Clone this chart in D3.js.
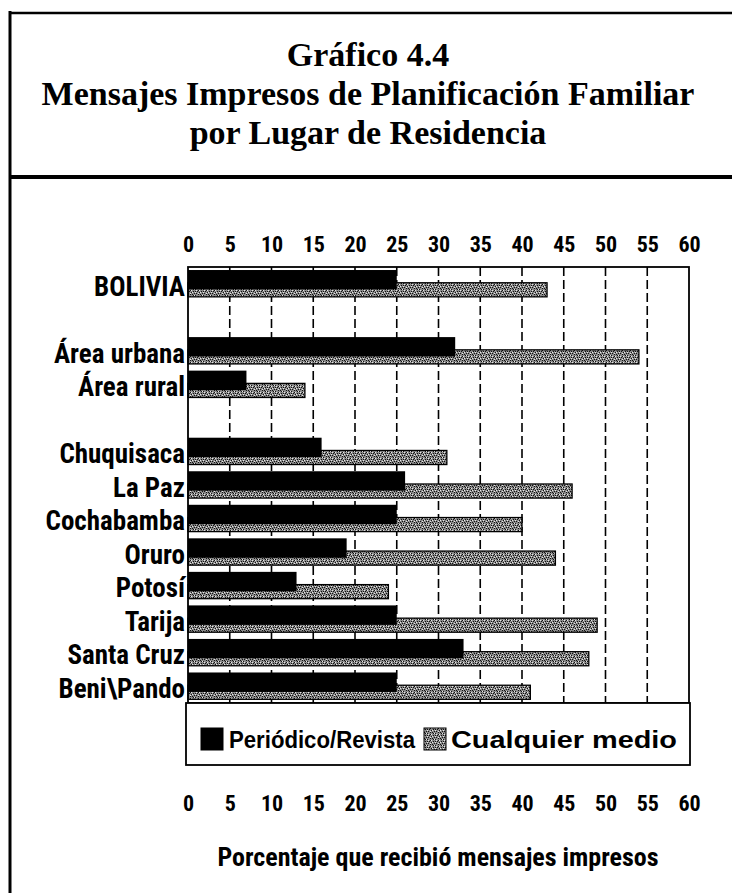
<!DOCTYPE html>
<html>
<head>
<meta charset="utf-8">
<script src="https://cdn.jsdelivr.net/npm/d3@7"></script>
<style>
  body { margin: 0; background: #fff; }
  svg { display: block; }
</style>
</head>
<body>
<svg id="chart" width="732" height="893"></svg>
<script>
// groups of categories, a blank row goes between groups
const categoryGroups = [
    ["BOLIVIA"],
    ["Área urbana", "Área rural"],
    ["Chuquisaca", "La Paz", "Cochabamba", "Oruro", "Potosí", "Tarija", "Santa Cruz", "Beni\\Pando"]
];
const categories = categoryGroups.flat();
const periodico = [25, 32, 7, 16, 26, 25, 19, 13, 25, 33, 25];
const cualquier = [43, 54, 14, 31, 46, 40, 44, 24, 49, 48, 41];
const xTicks = [0, 5, 10, 15, 20, 25, 30, 35, 40, 45, 50, 55, 60];
const seriesNames = ["Periódico/Revista", "Cualquier medio"];
const titleLines = ["Gráfico 4.4", "Mensajes Impresos de Planificación Familiar", "por Lugar de Residencia"];
const xTitle = "Porcentaje que recibió mensajes impresos";

const svg = d3.select('#chart');
const condensed = "'Liberation Sans Narrow', 'Roboto Condensed', 'Liberation Sans', sans-serif";

// stippled gray fill like the printed screen
const defs = svg.append('defs');
const pat = defs.append('pattern')
    .attr('id', 'stipple')
    .attr('width', 8).attr('height', 6)
    .attr('patternUnits', 'userSpaceOnUse');
pat.append('rect').attr('width', 8).attr('height', 6).attr('fill', '#8a8a8a');
const darkDots = [[0,0],[3,1],[6,0],[1,3],[5,3],[2,5],[7,4],[4,5],[1,1],[6,2],[3,3]];
const lightDots = [[2,1],[7,2],[0,4],[4,2],[6,5],[3,4]];
pat.selectAll('.d').data(darkDots).enter().append('rect')
    .attr('x', d => d[0]).attr('y', d => d[1]).attr('width', 1).attr('height', 1).attr('fill', '#111');
pat.selectAll('.l').data(lightDots).enter().append('rect')
    .attr('x', d => d[0]).attr('y', d => d[1]).attr('width', 1).attr('height', 1).attr('fill', '#e8e8e8');

// frame
svg.append('line').attr('x1', 10).attr('x2', 10).attr('y1', 11).attr('y2', 893)
    .attr('stroke', '#000').attr('stroke-width', 3);
svg.append('line').attr('x1', 9).attr('x2', 732).attr('y1', 13).attr('y2', 13)
    .attr('stroke', '#000').attr('stroke-width', 2.5);
svg.append('line').attr('x1', 9).attr('x2', 732).attr('y1', 177).attr('y2', 177)
    .attr('stroke', '#000').attr('stroke-width', 4);

// title
svg.selectAll('.title')
    .data(titleLines)
    .enter()
    .append('text')
    .attr('class', 'title')
    .attr('x', 368)
    .attr('y', (d, i) => 66 + i * 39)
    .attr('text-anchor', 'middle')
    .style('font-family', "'Liberation Serif', 'Times New Roman', serif")
    .style('font-weight', 'bold')
    .style('font-size', '34px')
    .text(d => d);

// scales
const margin = { left: 188, right: 689, top: 267, bottom: 703 };
const x = d3.scaleLinear().domain([0, 60]).range([margin.left, margin.right]);

const rows = [];
categoryGroups.forEach((g, i) => {
    if (i > 0) rows.push('_gap' + i);
    g.forEach(c => rows.push(c));
});
const y = d3.scaleBand().domain(rows).range([margin.top, margin.bottom]);
const bw = y.bandwidth();

// dashed grid
svg.selectAll('.grid')
    .data(xTicks.slice(1, -1))
    .enter()
    .append('line')
    .attr('class', 'grid')
    .attr('x1', d => x(d)).attr('x2', d => x(d))
    .attr('y1', margin.top).attr('y2', margin.bottom)
    .attr('stroke', '#000')
    .attr('stroke-width', 1.6)
    .attr('stroke-dasharray', '9,4');

const data = categories.map((c, i) => ({ name: c, p: periodico[i], q: cualquier[i] }));

// gray bars (lower, behind)
svg.selectAll('.bar-q')
    .data(data)
    .enter()
    .append('rect')
    .attr('class', 'bar-q')
    .attr('x', x(0))
    .attr('y', d => y(d.name) + bw * 0.47)
    .attr('width', d => x(d.q) - x(0))
    .attr('height', bw * 0.42)
    .attr('fill', 'url(#stipple)')
    .attr('stroke', '#000')
    .attr('stroke-width', 1.3);

// black bars (upper)
svg.selectAll('.bar-p')
    .data(data)
    .enter()
    .append('rect')
    .attr('class', 'bar-p')
    .attr('x', x(0))
    .attr('y', d => y(d.name) + bw * 0.09)
    .attr('width', d => x(d.p) - x(0))
    .attr('height', bw * 0.58)
    .attr('fill', '#000');

// plot border
svg.append('rect')
    .attr('x', margin.left).attr('y', margin.top)
    .attr('width', margin.right - margin.left)
    .attr('height', margin.bottom - margin.top)
    .attr('fill', 'none')
    .attr('stroke', '#000')
    .attr('stroke-width', 1.8);

// category labels
svg.selectAll('.cat')
    .data(data)
    .enter()
    .append('text')
    .attr('class', 'cat')
    .attr('x', margin.left - 3)
    .attr('y', d => y(d.name) + bw * 0.56)
    .attr('dy', '0.36em')
    .attr('text-anchor', 'end')
    .style('font-family', condensed)
    .style('font-weight', 'bold')
    .style('font-size', '27px')
    .text(d => d.name);

// top and bottom tick labels
function tickLabels(axis, ypos) {
    svg.append('g')
        .attr('transform', `translate(0,${ypos})`)
        .call(axis.tickValues(xTicks).tickSize(0).tickPadding(0))
        .call(g => g.select('.domain').remove())
        .selectAll('text')
        .attr('dy', 0)
        .style('font-family', condensed)
        .style('font-weight', 'bold')
        .style('font-size', '22px')
        .attr('fill', '#000');
}
tickLabels(d3.axisTop(x), 252);
tickLabels(d3.axisBottom(x), 811);

// legend
const legY = margin.bottom;
svg.append('rect')
    .attr('x', 186).attr('y', legY)
    .attr('width', 504).attr('height', 62)
    .attr('fill', '#fff')
    .attr('stroke', '#000')
    .attr('stroke-width', 1.8);

const legendItems = [
    { name: seriesNames[0], fill: '#000', x: 201, tx: 229, w: 186 },
    { name: seriesNames[1], fill: 'url(#stipple)', x: 424, tx: 451, w: 226 }
];
const leg = svg.selectAll('.leg')
    .data(legendItems)
    .enter()
    .append('g')
    .attr('class', 'leg');
leg.append('rect')
    .attr('x', d => d.x).attr('y', legY + 25)
    .attr('width', 22).attr('height', 22)
    .attr('fill', d => d.fill)
    .attr('stroke', '#000')
    .attr('stroke-width', 1);
leg.append('text')
    .attr('x', d => d.tx)
    .attr('y', legY + 45)
    .attr('textLength', d => d.w)
    .attr('lengthAdjust', 'spacingAndGlyphs')
    .style('font-family', "'Liberation Sans', Arial, sans-serif")
    .style('font-weight', 'bold')
    .style('font-size', '23px')
    .text(d => d.name);

// x axis title
svg.append('text')
    .attr('x', 438)
    .attr('y', 866)
    .attr('text-anchor', 'middle')
    .style('font-family', condensed)
    .style('font-weight', 'bold')
    .style('font-size', '26px')
    .text(xTitle);
</script>
</body>
</html>
